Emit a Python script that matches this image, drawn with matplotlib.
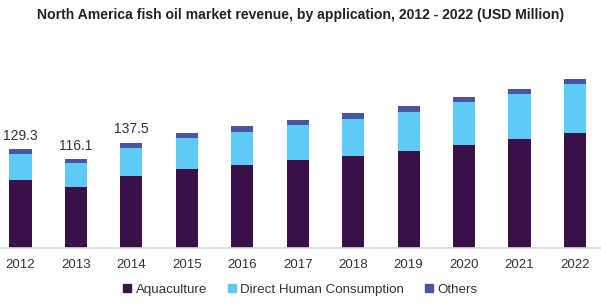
import numpy as np
import matplotlib.pyplot as plt
from matplotlib.patches import Patch

years = ['2012', '2013', '2014', '2015', '2016', '2017', '2018', '2019', '2020', '2021', '2022']
aquaculture = [89.1, 79.5, 94.3, 103.5, 108.4, 115.0, 120.2, 126.8, 135.4, 143.3, 151.1]
direct_human = [34.1, 31.9, 36.7, 40.6, 43.3, 45.9, 48.5, 51.1, 56.4, 59.0, 64.2]
others = [6.1, 4.8, 6.5, 6.6, 7.9, 6.6, 7.9, 7.9, 6.6, 6.6, 6.6]
labels = ['129.3', '116.1', '137.5']

colors = ['#371148', '#5ecbf7', '#4a55a2']
names = ['Aquaculture', 'Direct Human Consumption', 'Others']


def main():
    plt.rcParams['font.family'] = ['Liberation Sans', 'DejaVu Sans']
    fig = plt.figure(figsize=(6.01, 3.04), dpi=100)
    ax = fig.add_axes([0.0, 0.184, 1.0, 0.684])

    x = np.arange(len(years))
    aq = np.array(aquaculture)
    dh = np.array(direct_human)
    ot = np.array(others)
    w = 0.4
    ax.bar(x, aq, w, color=colors[0])
    ax.bar(x, dh, w, bottom=aq, color=colors[1])
    ax.bar(x, ot, w, bottom=aq + dh, color=colors[2])

    # 前三年的数值标签
    totals = aq + dh + ot
    for i, lab in enumerate(labels):
        ax.text(x[i], totals[i] + 9, lab, ha='center', va='bottom',
                fontsize=10, color='#333333')

    ax.set_xlim(-0.37, 10.47)
    ax.set_ylim(0, 272.6)
    ax.set_xticks(x)
    ax.set_xticklabels(years, fontsize=9.5, color='#333333')
    ax.tick_params(axis='x', length=0, pad=8)
    ax.set_yticks([])
    for s in ['top', 'right', 'left']:
        ax.spines[s].set_visible(False)
    ax.spines['bottom'].set_color('#d9d9d9')
    ax.spines['bottom'].set_linewidth(1.2)

    fig.text(0.5, 0.95, 'North America fish oil market revenue, by application, 2012 - 2022 (USD Million)',
             ha='center', va='center', fontsize=10.1, fontweight='bold', color='#222222')

    handles = [Patch(color=c) for c in colors]
    fig.legend(handles, names, loc='center', bbox_to_anchor=(0.5, 0.047), ncol=3,
               frameon=False, fontsize=9.6, handlelength=0.6, handleheight=0.6,
               handletextpad=0.3, columnspacing=1.6, labelcolor='#333333')

    plt.savefig('out.png', dpi=100)


if __name__ == '__main__':
    main()
